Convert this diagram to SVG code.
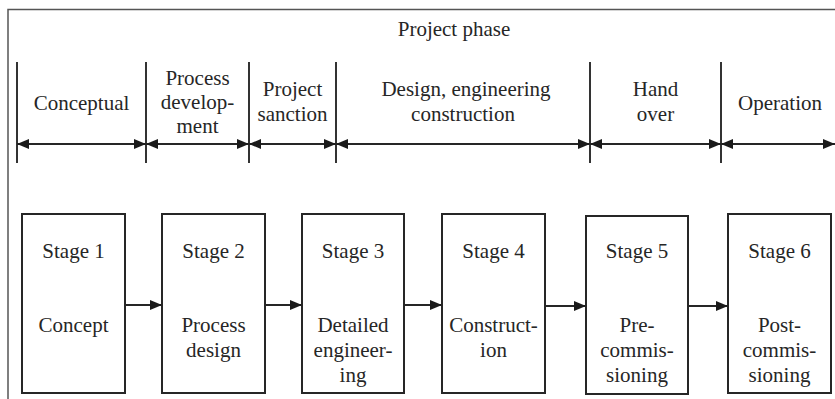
<svg xmlns="http://www.w3.org/2000/svg" width="835" height="399" viewBox="0 0 835 399">
<style>
text{font-family:'Liberation Serif','Times New Roman',serif;font-size:21px;fill:#262626;text-anchor:middle}
.box{fill:#fff;stroke:#262626;stroke-width:2}
.div{stroke:#333;stroke-width:2}
.conn{stroke:#262626;stroke-width:2;fill:none}
.frame{stroke:#555;stroke-width:1.5;fill:none}
</style>
<defs>
<marker id="ah" markerUnits="userSpaceOnUse" markerWidth="12" markerHeight="10" refX="12" refY="5" orient="auto-start-reverse">
<path d="M0,0 L12,5 L0,10 z" fill="#1a1a1a"/>
</marker>
</defs>
<rect width="835" height="399" fill="#fff"/>
<path class="frame" d="M8,399 V9.5 H835"/>
<g id="title"><text x="454" y="36">Project phase</text></g>
<g id="phase-dividers">
<line class="div" x1="17" y1="62" x2="17" y2="163"/>
<line class="div" x1="146" y1="62" x2="146" y2="163"/>
<line class="div" x1="249" y1="62" x2="249" y2="163"/>
<line class="div" x1="336" y1="62" x2="336" y2="163"/>
<line class="div" x1="590" y1="62" x2="590" y2="163"/>
<line class="div" x1="721" y1="62" x2="721" y2="163"/>
</g>
<g id="phase-conceptual"><text x="81.5" y="110">Conceptual</text></g>
<g id="phase-process-development"><text x="197.5" y="85">Process</text><text x="197.5" y="109">develop-</text><text x="197.5" y="133">ment</text></g>
<g id="phase-project-sanction"><text x="292.5" y="96">Project</text><text x="292.5" y="121">sanction</text></g>
<g id="phase-design"><text x="466" y="96">Design, engineering</text><text x="463" y="121">construction</text></g>
<g id="phase-handover"><text x="655.5" y="96">Hand</text><text x="655.5" y="121">over</text></g>
<g id="phase-operation"><text x="780" y="110">Operation</text></g>
<g id="stage1"><rect class="box" x="22" y="214" width="103" height="179"/><text x="73.5" y="258">Stage 1</text><text x="73.5" y="332">Concept</text></g>
<g id="stage2"><rect class="box" x="162" y="214" width="103" height="179"/><text x="213.5" y="258">Stage 2</text><text x="213.5" y="332">Process</text><text x="213.5" y="357">design</text></g>
<g id="stage3"><rect class="box" x="302" y="214" width="102" height="179"/><text x="353" y="258">Stage 3</text><text x="353" y="332">Detailed</text><text x="353" y="357">engineer-</text><text x="353" y="382">ing</text></g>
<g id="stage4"><rect class="box" x="442" y="214" width="103" height="179"/><text x="493.5" y="258">Stage 4</text><text x="493.5" y="332">Construct-</text><text x="493.5" y="357">ion</text></g>
<g id="stage5"><rect class="box" x="586" y="216" width="102" height="178"/><text x="637" y="258">Stage 5</text><text x="637" y="332">Pre-</text><text x="637" y="357">commis-</text><text x="637" y="382">sioning</text></g>
<g id="stage6"><rect class="box" x="728" y="214" width="103" height="179"/><text x="779.5" y="258">Stage 6</text><text x="779.5" y="332">Post-</text><text x="779.5" y="357">commis-</text><text x="779.5" y="382">sioning</text></g>
<g id="connectors">
<line class="conn" x1="17" y1="144" x2="146" y2="144" marker-start="url(#ah)" marker-end="url(#ah)"/>
<line class="conn" x1="146" y1="144" x2="249" y2="144" marker-start="url(#ah)" marker-end="url(#ah)"/>
<line class="conn" x1="249" y1="144" x2="336" y2="144" marker-start="url(#ah)" marker-end="url(#ah)"/>
<line class="conn" x1="336" y1="144" x2="590" y2="144" marker-start="url(#ah)" marker-end="url(#ah)"/>
<line class="conn" x1="590" y1="144" x2="721" y2="144" marker-start="url(#ah)" marker-end="url(#ah)"/>
<line class="conn" x1="721" y1="144" x2="835" y2="144" marker-start="url(#ah)" marker-end="url(#ah)"/>
<line class="conn" x1="125" y1="305" x2="162" y2="305" marker-end="url(#ah)"/>
<line class="conn" x1="265" y1="305" x2="302" y2="305" marker-end="url(#ah)"/>
<line class="conn" x1="404" y1="305" x2="442" y2="305" marker-end="url(#ah)"/>
<line class="conn" x1="545" y1="306" x2="586" y2="306" marker-end="url(#ah)"/>
<line class="conn" x1="688" y1="306" x2="728" y2="306" marker-end="url(#ah)"/>
</g>
</svg>
